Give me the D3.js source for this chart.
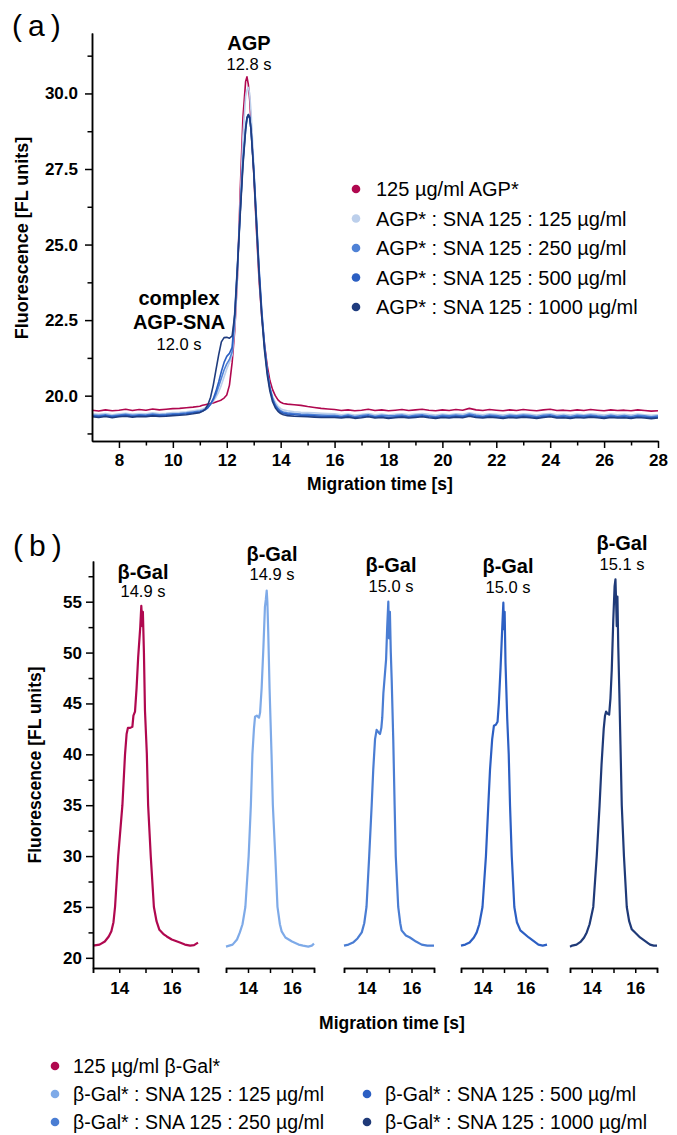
<!DOCTYPE html>
<html><head><meta charset="utf-8">
<script src="https://cdn.jsdelivr.net/npm/d3@7"></script>
<style>
body{margin:0;background:#fff}
text{font-family:"Liberation Sans",Arial,Helvetica,sans-serif;fill:#000}
</style>
</head><body>
<svg id="c" width="677" height="1135"></svg>
<script>
// ---------------- DATA ----------------
// Panel (a): migration time grid [s]
const agpTime = [
 7.0, 7.25, 7.5, 7.75, 8.0, 8.25, 8.5, 8.75, 9.0, 9.25,
 9.5, 9.75, 10.0, 10.25, 10.5, 10.75,
 11.0, 11.1, 11.2, 11.3, 11.4, 11.5, 11.6, 11.7, 11.8, 11.9,
 12.0, 12.1, 12.2, 12.3, 12.4, 12.5, 12.6, 12.7, 12.75, 12.8,
 12.85, 12.9, 13.0, 13.1, 13.2, 13.3, 13.4, 13.5, 13.6, 13.7,
 13.8, 13.9, 14.0, 14.1,
 14.25, 14.5, 14.75, 15.0, 15.25, 15.5, 15.75,
 16.0, 16.25, 16.5, 16.75, 17.0, 17.25, 17.5, 17.75, 18.0, 18.25,
 18.5, 18.75, 19.0, 19.25, 19.5, 19.75, 20.0, 20.25, 20.5, 20.75,
 21.0, 21.25, 21.5, 21.75, 22.0, 22.25, 22.5, 22.75, 23.0, 23.25,
 23.5, 23.75, 24.0, 24.25, 24.5, 24.75, 25.0, 25.25, 25.5, 25.75,
 26.0, 26.25, 26.5, 26.75, 27.0, 27.25, 27.5, 27.75, 28.0
];
// Fluorescence [FL units]
const agpAlone = [
 19.52, 19.49, 19.53, 19.50, 19.52, 19.55, 19.51, 19.54, 19.52, 19.56,
 19.53, 19.55, 19.57, 19.58, 19.60, 19.62,
 19.65, 19.68, 19.70, 19.72, 19.74, 19.76, 19.79, 19.82, 19.86, 19.92,
 20.02, 20.35, 21.1, 22.2, 24.0, 26.8, 29.2, 30.4, 30.55, 30.3,
 29.8, 29.0, 27.4, 25.5, 23.8, 22.6, 21.7, 21.0, 20.5, 20.2,
 20.0, 19.86, 19.78, 19.74,
 19.72, 19.70, 19.68, 19.64, 19.61, 19.58, 19.56,
 19.54, 19.51, 19.53, 19.50, 19.52, 19.55, 19.51, 19.53, 19.50, 19.52,
 19.54, 19.51, 19.53, 19.55, 19.52, 19.50, 19.53, 19.51, 19.54, 19.52,
 19.58, 19.53, 19.51, 19.54, 19.52, 19.50, 19.53, 19.51, 19.54, 19.52,
 19.50, 19.53, 19.55, 19.51, 19.52, 19.50, 19.53, 19.51, 19.54, 19.52,
 19.50, 19.53, 19.51, 19.52, 19.50, 19.53, 19.51, 19.49, 19.50
];
const agpSna125 = [
 19.40, 19.38, 19.41, 19.37, 19.40, 19.42, 19.39, 19.41, 19.40, 19.43,
 19.41, 19.42, 19.44, 19.45, 19.47, 19.50,
 19.53, 19.56, 19.60, 19.65, 19.72, 19.82, 19.95, 20.12, 20.35, 20.62,
 20.88, 21.10, 21.35, 22.3, 24.0, 26.4, 28.6, 29.9, 30.1, 30.2,
 30.0, 29.4, 27.7, 25.8, 24.0, 22.7, 21.6, 20.8, 20.3, 19.98,
 19.78, 19.65, 19.57, 19.53,
 19.50, 19.47, 19.45, 19.44, 19.43, 19.42, 19.41,
 19.40, 19.37, 19.39, 19.36, 19.38, 19.41, 19.37, 19.39, 19.36, 19.38,
 19.40, 19.37, 19.39, 19.41, 19.38, 19.36, 19.39, 19.37, 19.40, 19.38,
 19.43, 19.39, 19.37, 19.40, 19.38, 19.36, 19.39, 19.37, 19.40, 19.38,
 19.36, 19.39, 19.41, 19.37, 19.38, 19.36, 19.39, 19.37, 19.40, 19.38,
 19.36, 19.39, 19.37, 19.38, 19.36, 19.39, 19.37, 19.35, 19.37
];
const agpSna250 = [
 19.36, 19.34, 19.37, 19.33, 19.36, 19.38, 19.35, 19.37, 19.36, 19.39,
 19.37, 19.38, 19.40, 19.41, 19.43, 19.46,
 19.49, 19.52, 19.56, 19.62, 19.72, 19.86, 20.05, 20.30, 20.58, 20.85,
 21.05, 21.20, 21.45, 22.6, 24.3, 26.1, 27.8, 28.9, 29.2, 29.3,
 29.25, 28.8, 27.5, 25.8, 24.1, 22.7, 21.6, 20.8, 20.25, 19.90,
 19.70, 19.58, 19.50, 19.46,
 19.43, 19.41, 19.39, 19.38, 19.37, 19.36, 19.35,
 19.35, 19.32, 19.36, 19.31, 19.34, 19.37, 19.32, 19.35, 19.33, 19.34,
 19.36, 19.32, 19.35, 19.37, 19.33, 19.31, 19.35, 19.33, 19.36, 19.33,
 19.39, 19.35, 19.32, 19.36, 19.34, 19.31, 19.35, 19.33, 19.36, 19.34,
 19.31, 19.35, 19.37, 19.32, 19.34, 19.31, 19.35, 19.33, 19.36, 19.33,
 19.31, 19.35, 19.32, 19.34, 19.31, 19.35, 19.33, 19.30, 19.33
];
const agpSna500 = [
 19.33, 19.31, 19.34, 19.30, 19.33, 19.35, 19.32, 19.34, 19.33, 19.36,
 19.34, 19.35, 19.37, 19.38, 19.40, 19.43,
 19.46, 19.49, 19.53, 19.60, 19.72, 19.90, 20.15, 20.45, 20.80, 21.10,
 21.30, 21.40, 21.60, 22.8, 24.4, 26.1, 27.7, 28.8, 29.15, 29.25,
 29.2, 28.8, 27.5, 25.9, 24.2, 22.8, 21.7, 20.85, 20.25, 19.88,
 19.66, 19.54, 19.46, 19.42,
 19.39, 19.37, 19.35, 19.34, 19.33, 19.32, 19.31,
 19.31, 19.29, 19.32, 19.28, 19.30, 19.33, 19.29, 19.31, 19.28, 19.30,
 19.32, 19.29, 19.31, 19.33, 19.30, 19.28, 19.31, 19.29, 19.32, 19.30,
 19.35, 19.31, 19.29, 19.32, 19.30, 19.28, 19.31, 19.29, 19.32, 19.30,
 19.28, 19.31, 19.33, 19.29, 19.30, 19.28, 19.31, 19.29, 19.32, 19.30,
 19.28, 19.31, 19.29, 19.30, 19.28, 19.31, 19.29, 19.27, 19.29
];
const agpSna1000 = [
 19.30, 19.28, 19.31, 19.27, 19.30, 19.32, 19.29, 19.31, 19.30, 19.33,
 19.31, 19.32, 19.34, 19.35, 19.37, 19.40,
 19.44, 19.48, 19.55, 19.70, 19.95, 20.35, 20.85, 21.35, 21.78, 21.92,
 21.93, 21.90, 21.98, 22.7, 24.3, 26.0, 27.6, 28.8, 29.2, 29.3,
 29.2, 28.8, 27.4, 25.7, 24.0, 22.6, 21.5, 20.7, 20.15, 19.80,
 19.60, 19.48, 19.41, 19.37,
 19.34, 19.32, 19.31, 19.30, 19.29, 19.28, 19.28,
 19.28, 19.26, 19.29, 19.25, 19.27, 19.30, 19.26, 19.28, 19.25, 19.27,
 19.29, 19.26, 19.28, 19.30, 19.27, 19.25, 19.28, 19.26, 19.29, 19.27,
 19.32, 19.28, 19.26, 19.29, 19.27, 19.25, 19.28, 19.26, 19.29, 19.27,
 19.25, 19.28, 19.30, 19.26, 19.27, 19.25, 19.28, 19.26, 19.29, 19.27,
 19.25, 19.28, 19.26, 19.27, 19.25, 19.28, 19.26, 19.24, 19.26
];
const agpLabels = [
 "125 µg/ml AGP*",
 "AGP* : SNA 125 : 125 µg/ml",
 "AGP* : SNA 125 : 250 µg/ml",
 "AGP* : SNA 125 : 500 µg/ml",
 "AGP* : SNA 125 : 1000 µg/ml"
];
const agpYMajor = [20.0, 22.5, 25.0, 27.5, 30.0];
const agpYMinor = [18.75, 21.25, 23.75, 26.25, 28.75, 31.25];
const agpXMajor = [8, 10, 12, 14, 16, 18, 20, 22, 24, 26, 28];
const agpXMinor = [9, 11, 13, 15, 17, 19, 21, 23, 25, 27];

// Panel (b): [time s, fluorescence] per run
const galAlone = [
 [13.0,21.2],[13.25,21.3],[13.45,21.6],[13.6,22.1],[13.7,22.6],[13.78,23.5],[13.84,25.0],
 [13.96,30.0],[14.12,35.0],[14.22,40.0],[14.28,42.0],[14.33,42.6],[14.42,42.6],[14.5,42.7],
 [14.54,43.8],[14.6,44.2],[14.66,46.5],[14.72,49.5],[14.8,52.5],[14.84,54.6],[14.88,52.6],
 [14.9,54.0],[14.94,50.0],[14.98,44.3],[15.05,40.1],[15.1,35.0],[15.2,30.0],[15.32,25.0],
 [15.42,23.6],[15.53,22.75],[15.7,22.3],[15.81,22.1],[16.0,21.8],[16.31,21.5],[16.5,21.3],
 [16.7,21.2],[16.85,21.25],[17.0,21.5]
];
const galSna125 = [
 [13.0,21.1],[13.3,21.3],[13.5,21.8],[13.63,22.5],[13.75,23.3],[13.88,25.0],[14.03,30.0],
 [14.13,35.0],[14.2,40.0],[14.27,42.5],[14.32,43.7],[14.4,43.8],[14.5,43.6],[14.55,44.1],
 [14.62,46.5],[14.7,50.5],[14.77,54.5],[14.81,55.2],[14.85,56.1],[14.88,55.0],[14.92,52.0],
 [14.98,46.5],[15.07,40.0],[15.13,35.0],[15.24,30.0],[15.34,25.0],[15.45,23.3],[15.53,22.6],
 [15.7,22.0],[16.0,21.6],[16.3,21.3],[16.5,21.2],[16.74,21.1],[16.9,21.2],[17.0,21.4]
];
const galSna250 = [
 [13.0,21.2],[13.2,21.3],[13.4,21.5],[13.6,21.9],[13.79,22.5],[13.9,23.4],[14.0,25.0],
 [14.12,30.0],[14.23,35.0],[14.3,38.5],[14.38,41.5],[14.45,42.4],[14.52,42.2],[14.6,42.0],
 [14.66,42.6],[14.7,43.6],[14.75,46.0],[14.87,49.3],[14.92,52.5],[14.97,55.0],[15.0,51.4],
 [15.04,54.0],[15.08,50.0],[15.12,47.3],[15.19,41.4],[15.25,35.0],[15.3,30.0],[15.41,25.0],
 [15.5,23.4],[15.56,22.7],[15.75,22.2],[15.93,22.0],[16.2,21.6],[16.45,21.3],[16.7,21.2],
 [17.0,21.2]
];
const galSna500 = [
 [13.0,21.2],[13.2,21.3],[13.4,21.5],[13.6,22.0],[13.73,22.5],[13.85,23.3],[14.0,25.0],
 [14.16,30.0],[14.27,35.0],[14.35,38.5],[14.45,41.5],[14.53,42.8],[14.62,42.9],[14.7,43.2],
 [14.76,45.0],[14.84,48.5],[14.92,52.5],[14.97,54.9],[15.0,52.3],[15.03,54.0],[15.07,49.0],
 [15.15,43.5],[15.22,40.0],[15.28,35.0],[15.36,30.0],[15.48,25.0],[15.6,23.5],[15.76,22.7],
 [16.15,22.0],[16.6,21.3],[16.8,21.2],[17.0,21.3]
];
const galSna1000 = [
 [13.0,21.1],[13.1,21.2],[13.3,21.3],[13.5,21.6],[13.65,22.0],[13.77,22.5],[13.9,23.3],
 [14.07,25.0],[14.23,30.0],[14.36,35.0],[14.45,39.0],[14.55,42.5],[14.61,43.8],[14.66,44.2],
 [14.72,44.0],[14.8,43.9],[14.86,45.5],[14.92,48.3],[14.99,53.2],[15.05,56.5],[15.09,57.2],
 [15.12,55.0],[15.15,52.6],[15.18,55.5],[15.22,50.5],[15.27,46.0],[15.32,41.0],[15.38,35.0],
 [15.48,30.0],[15.61,25.0],[15.72,23.6],[15.84,22.8],[16.22,22.0],[16.68,21.3],[16.85,21.2],
 [17.0,21.2]
];
const galPeakTimes = ["14.9 s", "14.9 s", "15.0 s", "15.0 s", "15.1 s"];
const galLabels = [
 "125 µg/ml β-Gal*",
 "β-Gal* : SNA 125 : 125 µg/ml",
 "β-Gal* : SNA 125 : 250 µg/ml",
 "β-Gal* : SNA 125 : 500 µg/ml",
 "β-Gal* : SNA 125 : 1000 µg/ml"
];
const galYMajor = [20, 25, 30, 35, 40, 45, 50, 55];
const galYMinor = [22.5, 27.5, 32.5, 37.5, 42.5, 47.5, 52.5, 57.5];
const galXMajor = [14, 16];
const galXMinor = [15];

// ---------------- STYLE ----------------
const agpColors = ["#b0084f", "#bccfeb", "#4f82d6", "#2b5fc2", "#1f3c7e"];
const galColors = ["#b0084f", "#7eaae8", "#4a7dd3", "#2c5fc3", "#1f3a78"];
const FONT = '"Liberation Sans",Arial,Helvetica,sans-serif';

const svg = d3.select("#c");

function styleAxis(g, fs) {
  g.selectAll("path.domain").attr("stroke", "#000").attr("stroke-width", 1.5);
  g.selectAll(".tick line").attr("stroke", "#000").attr("stroke-width", 1.5);
  g.selectAll(".tick text").attr("font-family", FONT).attr("font-size", fs)
    .attr("font-weight", "bold").attr("fill", "#000");
}

// ================= PANEL (a) =================
const xA = d3.scaleLinear().domain([7, 28]).range([92, 658]);
const yA = d3.scaleLinear().domain([18.5, 32]).range([441, 33]);

const agpSeries = [agpAlone, agpSna125, agpSna250, agpSna500, agpSna1000];
const lineA = d3.line().x(d => xA(d[0])).y(d => yA(d[1]));
agpSeries.forEach((vals, i) => {
  const pts = agpTime.map((t, k) => [t, vals[k]]);
  svg.append("path").datum(pts)
    .attr("d", lineA).attr("fill", "none")
    .attr("stroke", agpColors[i]).attr("stroke-width", 1.6)
    .attr("stroke-linejoin", "round");
});

// axes
let g = svg.append("g").attr("transform", "translate(0,441)")
  .call(d3.axisBottom(xA).tickValues(agpXMinor).tickFormat("").tickSize(4.5).tickSizeOuter(0));
styleAxis(g, 17);
g = svg.append("g").attr("transform", "translate(0,441)")
  .call(d3.axisBottom(xA).tickValues(agpXMajor).tickFormat(d3.format("d")).tickSize(7).tickSizeOuter(0).tickPadding(6));
styleAxis(g, 17);
g = svg.append("g").attr("transform", "translate(92,0)")
  .call(d3.axisLeft(yA).tickValues(agpYMinor).tickFormat("").tickSize(4.5).tickSizeOuter(0));
styleAxis(g, 17);
g = svg.append("g").attr("transform", "translate(92,0)")
  .call(d3.axisLeft(yA).tickValues(agpYMajor).tickFormat(d3.format(".1f")).tickSize(7).tickSizeOuter(0).tickPadding(7));
styleAxis(g, 17);

svg.append("text").attr("x", 380).attr("y", 490).attr("text-anchor", "middle")
  .attr("font-size", 17.5).attr("font-weight", "bold").text("Migration time [s]");
svg.append("text").attr("transform", "translate(28,238) rotate(-90)").attr("text-anchor", "middle")
  .attr("font-size", 18).attr("font-weight", "bold").text("Fluorescence [FL units]");

svg.append("text").attr("x", 12).attr("y", 36).attr("font-size", 30)
  .attr("letter-spacing", 6).text("(a)");

// peak annotations
svg.append("text").attr("x", 249).attr("y", 50).attr("text-anchor", "middle")
  .attr("font-size", 20).attr("font-weight", "bold").text("AGP");
svg.append("text").attr("x", 249).attr("y", 70).attr("text-anchor", "middle")
  .attr("font-size", 16.5).text("12.8 s");
svg.append("text").attr("x", 179).attr("y", 305).attr("text-anchor", "middle")
  .attr("font-size", 20).attr("font-weight", "bold").text("complex");
svg.append("text").attr("x", 179).attr("y", 329).attr("text-anchor", "middle")
  .attr("font-size", 20).attr("font-weight", "bold").text("AGP-SNA");
svg.append("text").attr("x", 179).attr("y", 350).attr("text-anchor", "middle")
  .attr("font-size", 16.5).text("12.0 s");

// legend (a)
const legA = svg.append("g");
agpLabels.forEach((lab, i) => {
  const y = 189 + i * 29.5;
  legA.append("circle").attr("cx", 356).attr("cy", y).attr("r", 4.3).attr("fill", agpColors[i]);
  legA.append("text").attr("x", 376).attr("y", y).attr("dy", "0.36em")
    .attr("font-size", 20).text(lab);
});

// ================= PANEL (b) =================
const yB = d3.scaleLinear().domain([19, 59]).range([968, 561]);
const galSeries = [galAlone, galSna125, galSna250, galSna500, galSna1000];
const panelRanges = [[93, 198], [226, 314], [344, 434], [461, 547], [570, 657]];
const labelPos = [[143, 579, 597], [272, 561, 580], [391, 572, 592], [508, 573, 593], [622, 550, 570]];

galSeries.forEach((data, i) => {
  const x = d3.scaleLinear().domain([13, 17]).range(panelRanges[i]);
  const line = d3.line().x(d => x(d[0])).y(d => yB(d[1]));
  svg.append("path").datum(data).attr("d", line).attr("fill", "none")
    .attr("stroke", galColors[i]).attr("stroke-width", 2.2).attr("stroke-linejoin", "round");
  let ga = svg.append("g").attr("transform", "translate(0,968)")
    .call(d3.axisBottom(x).tickValues(galXMinor).tickFormat("").tickSize(5).tickSizeOuter(5));
  styleAxis(ga, 17);
  ga = svg.append("g").attr("transform", "translate(0,968)")
    .call(d3.axisBottom(x).tickValues(galXMajor).tickFormat(d3.format("d")).tickSize(5).tickSizeOuter(5).tickPadding(9));
  styleAxis(ga, 17);
  const lp = labelPos[i];
  svg.append("text").attr("x", lp[0]).attr("y", lp[1]).attr("text-anchor", "middle")
    .attr("font-size", 20).attr("font-weight", "bold").text("β-Gal");
  svg.append("text").attr("x", lp[0]).attr("y", lp[2]).attr("text-anchor", "middle")
    .attr("font-size", 16.5).text(galPeakTimes[i]);
});

g = svg.append("g").attr("transform", "translate(93,0)")
  .call(d3.axisLeft(yB).tickValues(galYMinor).tickFormat("").tickSize(4.5).tickSizeOuter(0));
styleAxis(g, 17);
g = svg.append("g").attr("transform", "translate(93,0)")
  .call(d3.axisLeft(yB).tickValues(galYMajor).tickFormat(d3.format("d")).tickSize(7).tickSizeOuter(0).tickPadding(4));
styleAxis(g, 17);

svg.append("text").attr("x", 392).attr("y", 1029).attr("text-anchor", "middle")
  .attr("font-size", 17.5).attr("font-weight", "bold").text("Migration time [s]");
svg.append("text").attr("transform", "translate(41,765) rotate(-90)").attr("text-anchor", "middle")
  .attr("font-size", 17.5).attr("font-weight", "bold").text("Fluorescence [FL units]");
svg.append("text").attr("x", 13).attr("y", 556).attr("font-size", 30)
  .attr("letter-spacing", 6).text("(b)");

// legend (b)
const legBPos = [[55, 1066], [55, 1094], [55, 1122], [367, 1094], [367, 1122]];
galLabels.forEach((lab, i) => {
  const p = legBPos[i];
  svg.append("circle").attr("cx", p[0]).attr("cy", p[1]).attr("r", 4.3).attr("fill", galColors[i]);
  svg.append("text").attr("x", p[0] + 18).attr("y", p[1]).attr("dy", "0.34em")
    .attr("font-size", 19.5).text(lab);
});
</script>
</body></html>
